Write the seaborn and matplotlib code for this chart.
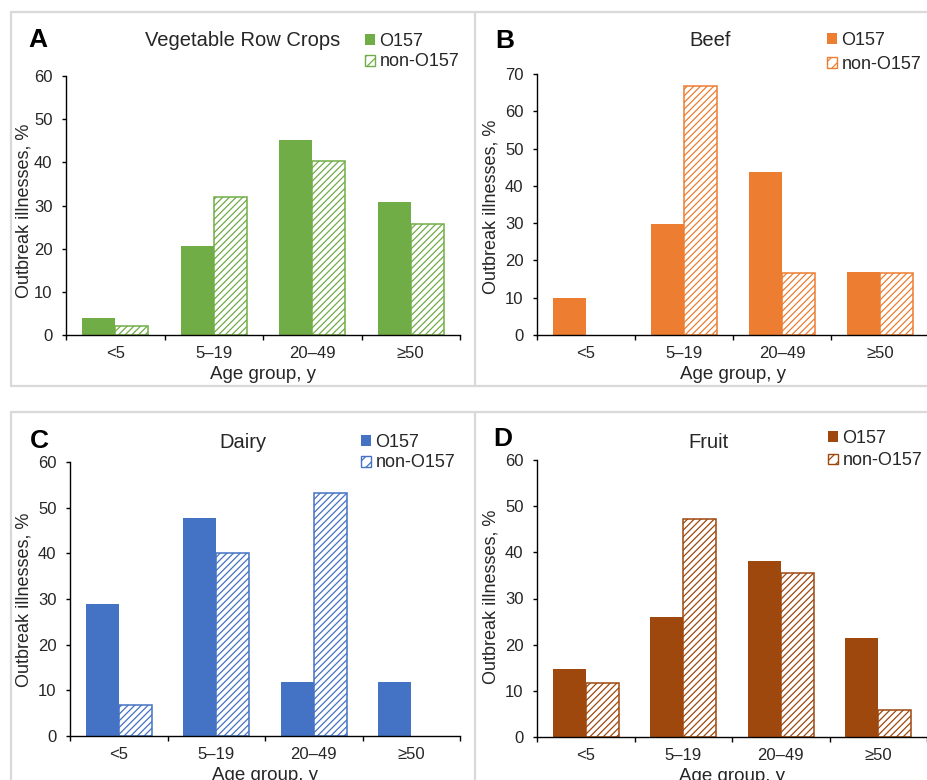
import matplotlib
matplotlib.use("Agg")
import matplotlib.pyplot as plt
import seaborn as sns
import pandas as pd
from matplotlib.patches import Patch
from matplotlib.lines import Line2D

# data (percent of outbreak illnesses)
age_groups = ["<5", "5–19", "20–49", "≥50"]
serogroups = ["O157", "non-O157"]

veg_o157 = [3.9, 20.7, 45.2, 30.7]
veg_non = [2.2, 32.0, 40.4, 25.6]
beef_o157 = [10.0, 29.8, 43.8, 17.0]
beef_non = [0.0, 66.7, 16.7, 16.7]
dairy_o157 = [28.9, 47.8, 11.8, 11.8]
dairy_non = [6.7, 40.0, 53.3, 0.0]
fruit_o157 = [14.7, 26.1, 38.2, 21.5]
fruit_non = [11.8, 47.3, 35.5, 5.9]

panel_letters = ["A", "B", "C", "D"]
panel_titles = ["Vegetable Row Crops", "Beef", "Dairy", "Fruit"]
panel_colors = ["#70AD47", "#ED7D31", "#4472C4", "#9E480E"]
y_max = [60, 70, 60, 60]
series = [(veg_o157, veg_non), (beef_o157, beef_non),
          (dairy_o157, dairy_non), (fruit_o157, fruit_non)]

W, H = 927, 780

# pixel layout: axes box (left, top, right, bottom), title/letter/legend spots
ax_boxes = [(66, 76, 460, 335), (537, 74, 929, 335),
            (70, 462, 460, 736), (537, 460, 927, 737)]
title_pos = [(243, 41), (710, 41), (243, 442), (709, 442)]
letter_pos = [(28, 40), (495, 41), (30, 441), (493, 439)]
legend_pos = [(365, 51.5), (827, 52.5), (361, 452.5), (828, 449.5)]
legend_spacing = [0.22, 0.42, 0.22, 0.32]
ylabel_pos = [(33, 211), (500, 207), (33, 600), (500, 597)]

sns.set_theme(style="ticks")
plt.rcParams['font.family'] = ['Liberation Sans', 'DejaVu Sans']
plt.rcParams['hatch.linewidth'] = 0.9


def fx(x):
    return x / W


def fy(y):
    return 1 - y / H


fig = plt.figure(figsize=(W / 100, H / 100), dpi=100)

# light gray panel frames
frame_kw = dict(color="#D9D9D9", linewidth=1.6, transform=fig.transFigure)
for y in [12, 386, 412]:
    fig.add_artist(Line2D([fx(11), 1.0], [fy(y), fy(y)], **frame_kw))
for x in [11, 475]:
    fig.add_artist(Line2D([fx(x), fx(x)], [fy(12), fy(386)], **frame_kw))
    fig.add_artist(Line2D([fx(x), fx(x)], [fy(412), 0.0], **frame_kw))

for i in range(4):
    l, t, r, b = ax_boxes[i]
    ax = fig.add_axes([fx(l), fy(b), (r - l) / W, (b - t) / H])
    color = panel_colors[i]
    o157, non = series[i]

    df = pd.DataFrame({
        "age": age_groups * 2,
        "pct": list(o157) + list(non),
        "sero": [serogroups[0]] * 4 + [serogroups[1]] * 4,
    })
    sns.barplot(data=df, x="age", y="pct", hue="sero", order=age_groups,
                hue_order=serogroups, palette=[color, color], saturation=1,
                width=0.675, legend=False, ax=ax)

    for bar in ax.containers[0]:
        bar.set_linewidth(0)
    for bar in ax.containers[1]:
        bar.set_facecolor("white")
        bar.set_edgecolor(color)
        bar.set_hatch("/////")
        bar.set_linewidth(1.1)
        if bar.get_height() == 0:
            bar.set_visible(False)

    ax.set_xlim(-0.5, 3.5)
    ax.set_ylim(0, y_max[i])
    ax.set_yticks(range(0, y_max[i] + 1, 10))
    ax.set_xticks([-0.5, 0.5, 1.5, 2.5, 3.5])
    ax.set_xticklabels([])
    ax.set_xticks(range(4), minor=True)
    ax.set_xticklabels(age_groups, minor=True)
    ax.tick_params(axis="x", which="major", length=3.8, width=1.0,
                   direction="out", color="black")
    ax.tick_params(axis="x", which="minor", length=0, pad=8,
                   labelsize=12, labelcolor="#262626")
    ax.tick_params(axis="y", length=3.2, width=1.0, pad=6.5,
                   labelsize=12, labelcolor="#262626", color="black")
    sns.despine(ax=ax)
    for side in ["left", "bottom"]:
        ax.spines[side].set_color("black")
        ax.spines[side].set_linewidth(1.0)

    ax.set_xlabel("Age group, y", fontsize=13.5, color="#262626")
    ax.xaxis.set_label_coords(0.5, -31 / (b - t))
    ax.set_ylabel("Outbreak illnesses, %", fontsize=13, color="#262626")
    lx, ly = ylabel_pos[i]
    ax.yaxis.set_label_coords((lx - l) / (r - l), (b - ly) / (b - t))

    tx, ty = title_pos[i]
    fig.text(fx(tx), fy(ty), panel_titles[i], fontsize=14.5, ha="center",
             va="center", color="#262626")
    px, py = letter_pos[i]
    fig.text(fx(px), fy(py), panel_letters[i], fontsize=19,
             fontweight="bold", ha="left", va="center", color="black")

    handles = [Patch(facecolor=color, edgecolor=color, linewidth=0),
               Patch(facecolor="white", edgecolor=color, hatch="///",
                     linewidth=1.0)]
    gx, gy = legend_pos[i]
    ax.legend(handles, serogroups, loc="center left",
              bbox_to_anchor=(fx(gx), fy(gy)), bbox_transform=fig.transFigure,
              frameon=False, fontsize=13, handlelength=0.55,
              handleheight=0.55, handletextpad=0.25, borderpad=0,
              borderaxespad=0, labelspacing=legend_spacing[i],
              labelcolor="#262626")

fig.savefig("out.png", dpi=100)
